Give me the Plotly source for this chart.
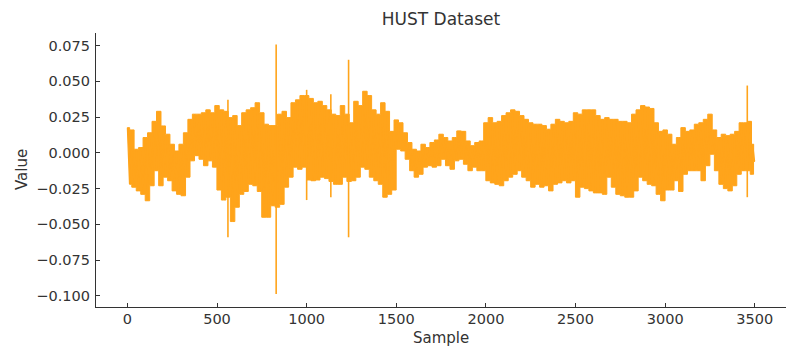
import plotly.graph_objects as go

# Envelope of the vibration signal, read every 25 samples (upper / lower extremes)
sample_pos = list(range(0, 3500, 25))
upper = [
    0.0176, 0.016, 0.0025, 0.0037, 0.0107, 0.014, 0.022, 0.029, 0.0188, 0.013,
    0.006, 0.0013, 0.006, 0.014, 0.0234, 0.027, 0.027, 0.028, 0.030, 0.028,
    0.033, 0.030, 0.029, 0.0246, 0.026, 0.019, 0.028, 0.030, 0.0315, 0.035,
    0.028, 0.020, 0.019, 0.019, 0.027, 0.029, 0.0246, 0.035, 0.037, 0.040,
    0.040, 0.038, 0.035, 0.036, 0.033, 0.030, 0.027, 0.026, 0.033, 0.027,
    0.021, 0.036, 0.033, 0.043, 0.040, 0.030, 0.027, 0.035, 0.029, 0.015,
    0.023, 0.021, 0.014, 0.0072, 0.0025, 0.0013, 0.006, 0.0037, 0.0072, 0.009,
    0.013, 0.0107, 0.0083, 0.0107, 0.0153, 0.015, 0.0083, 0.005, 0.0072, 0.0083,
    0.021, 0.0246, 0.021, 0.022, 0.026, 0.028, 0.030, 0.029, 0.026, 0.0234,
    0.021, 0.020, 0.020, 0.019, 0.0165, 0.020, 0.0234, 0.022, 0.021, 0.022,
    0.028, 0.027, 0.030, 0.030, 0.030, 0.026, 0.0234, 0.0246, 0.0234, 0.0234,
    0.022, 0.022, 0.021, 0.027, 0.030, 0.033, 0.032, 0.031, 0.021, 0.015,
    0.016, 0.013, 0.006, 0.0107, 0.0176, 0.015, 0.016, 0.020, 0.021, 0.0234,
    0.027, 0.016, 0.0107, 0.013, 0.012, 0.013, 0.015, 0.021, 0.021, 0.022,
]
lower = [
    -0.022, -0.024, -0.0266, -0.029, -0.0335, -0.023, -0.0125, -0.023, -0.017, -0.0195,
    -0.0266, -0.029, -0.030, -0.017, -0.0056, -0.002, -0.0045, -0.009, -0.0056, -0.010,
    -0.026, -0.033, -0.031, -0.048, -0.038, -0.029, -0.027, -0.022, -0.023, -0.027,
    -0.045, -0.045, -0.037, -0.038, -0.036, -0.024, -0.017, -0.010, -0.0115, -0.010,
    -0.019, -0.0195, -0.019, -0.017, -0.018, -0.020, -0.022, -0.022, -0.017, -0.020,
    -0.0195, -0.017, -0.010, -0.0115, -0.017, -0.0195, -0.022, -0.031, -0.029, -0.026,
    0.0025, 0.0013, -0.0045, -0.0125, -0.017, -0.015, -0.010, -0.009, -0.010, -0.009,
    -0.0045, -0.009, -0.0115, -0.0056, -0.0045, -0.008, -0.0125, -0.010, -0.0125, -0.0125,
    -0.0195, -0.021, -0.022, -0.023, -0.0195, -0.017, -0.015, -0.0125, -0.017, -0.0195,
    -0.024, -0.022, -0.024, -0.023, -0.0266, -0.022, -0.021, -0.0195, -0.021, -0.0195,
    -0.031, -0.024, -0.025, -0.0266, -0.028, -0.028, -0.029, -0.017, -0.024, -0.029,
    -0.030, -0.031, -0.031, -0.0266, -0.017, -0.0195, -0.022, -0.023, -0.029, -0.0335,
    -0.026, -0.026, -0.0195, -0.027, -0.015, -0.0125, -0.0125, -0.0125, -0.0195, -0.009,
    -0.001, -0.0125, -0.022, -0.025, -0.0266, -0.023, -0.015, -0.0125, -0.0125, -0.015,
]
end_sample = [3488, 3499]
end_values = [0.006, -0.006]

# Isolated impulses (single-sample spikes)
spike_x = [561, 830, 1000, 1135, 1234, 3458]
spike_hi = [0.037, 0.0757, 0.044, 0.041, 0.065, 0.047]
spike_lo = [-0.059, -0.0986, -0.033, -0.031, -0.059, -0.031]

x_tick_vals = [0, 500, 1000, 1500, 2000, 2500, 3000, 3500]
y_tick_vals = [-0.100, -0.075, -0.050, -0.025, 0.000, 0.025, 0.050, 0.075]

# Zig-zag signal from the envelope arrays
sx, sy = [], []
for p, hi, lo in zip(sample_pos, upper, lower):
    sx += [p, p + 12]
    sy += [hi, lo]
sx += end_sample
sy += end_values

# Dense band between the envelopes (the oscillation is too fast to resolve)
lo_pos = [p + 12 for p in sample_pos]
band_x = sample_pos + [end_sample[0], end_sample[1]] + lo_pos[::-1]
band_y = upper + [end_values[0], end_values[1]] + lower[::-1]

px, py = [], []
for s, hi, lo in zip(spike_x, spike_hi, spike_lo):
    px += [s, s, None]
    py += [hi, lo, None]

COLOR = "#FFA41B"
fig = go.Figure()
fig.add_trace(go.Scatter(x=band_x, y=band_y, mode="lines", fill="toself",
                         fillcolor=COLOR, line=dict(color=COLOR, width=1, shape="hvh"),
                         hoverinfo="skip"))
fig.add_trace(go.Scatter(x=sx, y=sy, mode="lines",
                         line=dict(color=COLOR, width=1.2), hoverinfo="skip"))
fig.add_trace(go.Scatter(x=px, y=py, mode="lines",
                         line=dict(color=COLOR, width=1.6), hoverinfo="skip"))

axis_color = "#333333"
fig.update_layout(
    width=798, height=358,
    margin=dict(l=96, r=12, t=33, b=51),
    paper_bgcolor="white", plot_bgcolor="white",
    showlegend=False,
    font=dict(family="DejaVu Sans", size=14.5, color=axis_color),
    title=dict(text="HUST Dataset", x=0.5, xref="paper", xanchor="center",
               y=1 - 19 / 358, yref="container", yanchor="middle",
               font=dict(size=17, color=axis_color)),
    xaxis=dict(range=[-175, 3674], tickvals=x_tick_vals, showgrid=False,
               zeroline=False, showline=True, linecolor=axis_color, linewidth=1.2,
               ticks="inside", ticklen=4, tickwidth=1.2, tickcolor=axis_color,
               tickfont=dict(size=14.5), automargin=False, ticklabelstandoff=-2),
    yaxis=dict(range=[-0.1077, 0.0837], tickvals=y_tick_vals, tickformat=".3f",
               showgrid=False, zeroline=False, showline=True, linecolor=axis_color,
               linewidth=1.2, ticks="inside", ticklen=4, tickwidth=1.2,
               tickcolor=axis_color, tickfont=dict(size=14.5), automargin=False,
               ticklabelstandoff=2),
    annotations=[
        dict(text="Sample", xref="paper", yref="paper", x=0.5, y=0,
             xanchor="center", yanchor="middle", yshift=-31, showarrow=False,
             font=dict(size=15, color=axis_color)),
        dict(text="Value", xref="paper", yref="paper", x=0, y=0.5,
             xanchor="center", yanchor="middle", xshift=-74, textangle=-90,
             showarrow=False, font=dict(size=15, color=axis_color)),
    ],
)

fig.write_html("out.html")
